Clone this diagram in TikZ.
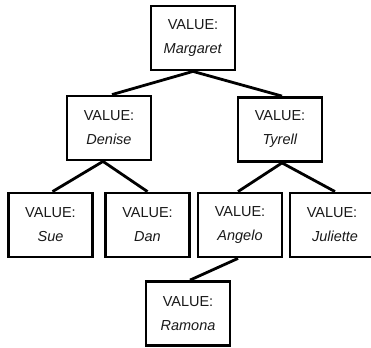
\documentclass[tikz,border=0pt]{standalone}
\usepackage{fontspec}
\setmainfont{Liberation Sans}
\usepackage{tikz}
\usetikzlibrary{positioning}
\tikzset{
  valbox/.style={draw, line width=2.8pt, minimum width=84pt, minimum height=64pt, inner sep=0pt,
    align=center, text=black!90, font=\fontsize{14.5}{24}\selectfont},
  link/.style={draw, line width=2.8pt}
}
\newcommand{\val}[1]{VALUE:\\\textit{#1}}

\begin{document}
\begin{tikzpicture}[x=1pt, y=-1pt]
\clip (0,0) rectangle (371,347);
\node[valbox] (margaret) at (193,38) {\val{Margaret}};
\node[valbox] (denise) at (109,128) {\val{Denise}};
\node[valbox] (tyrell) at (280,129.5) {\val{Tyrell}};
\node[valbox] (sue) at (50.5,225) {\val{Sue}};
\node[valbox] (dan) at (147.5,225) {\val{Dan}};
\node[valbox] (angelo) at (240,225) {\val{Angelo}};
\node[valbox, minimum width=90pt] (juliette) at (335,225) {\hspace*{-6pt}\val{Juliette}};
\node[valbox] (ramona) at (188,313.5) {\val{Ramona}};
% edges
\path[link] (margaret.south) -- ([xshift=3pt]denise.north);
\path[link] (margaret.south) -- ([xshift=2pt]tyrell.north);
\path[link] ([xshift=-6pt]denise.south) -- ([xshift=2pt]sue.north);
\path[link] ([xshift=-6pt]denise.south) -- (dan.north);
\path[link] ([xshift=2pt]tyrell.south) -- ([xshift=-2pt]angelo.north);
\path[link] ([xshift=2pt]tyrell.south) -- ([xshift=0pt]juliette.north);
\path[link] ([xshift=-2pt]angelo.south) -- ([xshift=2pt]ramona.north);
\end{tikzpicture}
\end{document}
